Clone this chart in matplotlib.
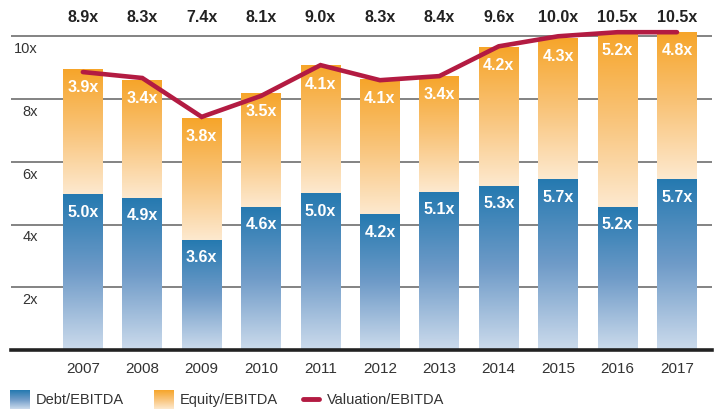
import matplotlib
matplotlib.use("Agg")
import matplotlib.pyplot as plt
import matplotlib.transforms as mtrans
import numpy as np
from matplotlib.colors import LinearSegmentedColormap
from matplotlib.lines import Line2D

years = ["2007", "2008", "2009", "2010", "2011", "2012", "2013", "2014", "2015", "2016", "2017"]
# values printed in the labels
debt_label = [5.0, 4.9, 3.6, 4.6, 5.0, 4.2, 5.1, 5.3, 5.7, 5.2, 5.7]
equity_label = [3.9, 3.4, 3.8, 3.5, 4.1, 4.1, 3.4, 4.2, 4.3, 5.2, 4.8]
valuation_label = [8.9, 8.3, 7.4, 8.1, 9.0, 8.3, 8.4, 9.6, 10.0, 10.5, 10.5]
debt_drawn = [4.98, 4.86, 3.52, 4.57, 5.0, 4.32, 5.05, 5.24, 5.46, 4.57, 5.46]
equity_drawn = [3.97, 3.74, 3.88, 3.62, 4.05, 4.28, 3.68, 4.41, 4.48, 5.9, 5.0]
valuation_drawn = [8.86, 8.67, 7.43, 8.1, 9.08, 8.6, 8.73, 9.68, 10.0, 10.5, 10.5]
yticks = [2, 4, 6, 8, 10]

plt.rcParams['font.family'] = ['Liberation Sans', 'DejaVu Sans']

W, H = 715, 410
YMAX = 10.13  # source chart clamps values at the top of the plot area
fig = plt.figure(figsize=(W / 100, H / 100), dpi=100)
ax = fig.add_axes([11 / W, 59 / H, (712 - 11) / W, (351 - 31) / H])

debt_cmap = LinearSegmentedColormap.from_list("d", ["#CCDBEC", "#6F9BC8", "#2479B0"])
eq_cmap = LinearSegmentedColormap.from_list("e", ["#FDE9CF", "#F9C47A", "#F6A52A"])
grad = np.linspace(0, 1, 256).reshape(-1, 1)

x = np.arange(len(years))
bw = 0.673
for i in x:
    d, e = debt_drawn[i], equity_drawn[i]
    top = min(d + e, YMAX)
    ax.imshow(grad, cmap=debt_cmap, origin='lower', aspect='auto',
              extent=[i - bw / 2, i + bw / 2, 0, d], zorder=2, interpolation='bilinear')
    ax.imshow(grad, cmap=eq_cmap, origin='lower', aspect='auto',
              extent=[i - bw / 2, i + bw / 2, d, top], zorder=2, interpolation='bilinear')
    ax.annotate(f"{debt_label[i]:.1f}x", (i, d), xytext=(0, -12.5), textcoords='offset points',
                ha='center', va='center', color='white', fontsize=11.5, fontweight='bold',
                zorder=5, annotation_clip=False)
    ax.annotate(f"{equity_label[i]:.1f}x", (i, top), xytext=(0, -12.5), textcoords='offset points',
                ha='center', va='center', color='white', fontsize=11.5, fontweight='bold',
                zorder=5, annotation_clip=False)

ax.plot(x, np.minimum(valuation_drawn, YMAX), color='#B31B42', lw=3.3, solid_capstyle='round',
        solid_joinstyle='miter', zorder=4, clip_on=False)

for yt in yticks:
    ax.axhline(yt, color='#7a7a7a', lw=1.3, zorder=1)
    ax.annotate(f"{yt}x", (38 / W, yt), xycoords=('figure fraction', 'data'),
                xytext=(0, -8.6), textcoords='offset points',
                ha='right', va='center', fontsize=10.5, color='#333333')
ax.axhline(0, color='#222222', lw=2.6, zorder=3, clip_on=False)

tr = mtrans.blended_transform_factory(ax.transData, fig.transFigure)
for i, v in enumerate(valuation_label):
    ax.text(i, 1 - 18 / H, f"{v:.1f}x", transform=tr,
            ha='center', va='center', fontsize=11.5, fontweight='bold', color='#222222')

ax.set_xlim(-1.21, 10.59)
ax.set_ylim(0, 10.2)
ax.set_xticks(x)
ax.set_xticklabels(years, fontsize=11, color='#333333')
ax.tick_params(axis='x', length=0, pad=8)
ax.set_yticks([])
for s in ax.spines.values():
    s.set_visible(False)

# legend
ly = 1 - 400 / H
sw1 = fig.add_axes([10 / W, 0 / H, 20 / W, 19 / H])
sw1.imshow(grad, cmap=debt_cmap, origin='lower', aspect='auto', extent=[0, 1, 0, 1])
sw1.axis('off')
fig.text(36 / W, ly, "Debt/EBITDA", fontsize=10.5, color='#333333', va='center', ha='left')
sw2 = fig.add_axes([154 / W, 0 / H, 20 / W, 19 / H])
sw2.imshow(grad, cmap=eq_cmap, origin='lower', aspect='auto', extent=[0, 1, 0, 1])
sw2.axis('off')
fig.text(180 / W, ly, "Equity/EBITDA", fontsize=10.5, color='#333333', va='center', ha='left')
fig.add_artist(Line2D([303 / W, 319 / W], [ly, ly], transform=fig.transFigure,
                      color='#B31B42', lw=3.5, solid_capstyle='round'))
fig.text(327 / W, ly, "Valuation/EBITDA", fontsize=10.5, color='#333333', va='center', ha='left')

fig.savefig("out.png", dpi=100)
